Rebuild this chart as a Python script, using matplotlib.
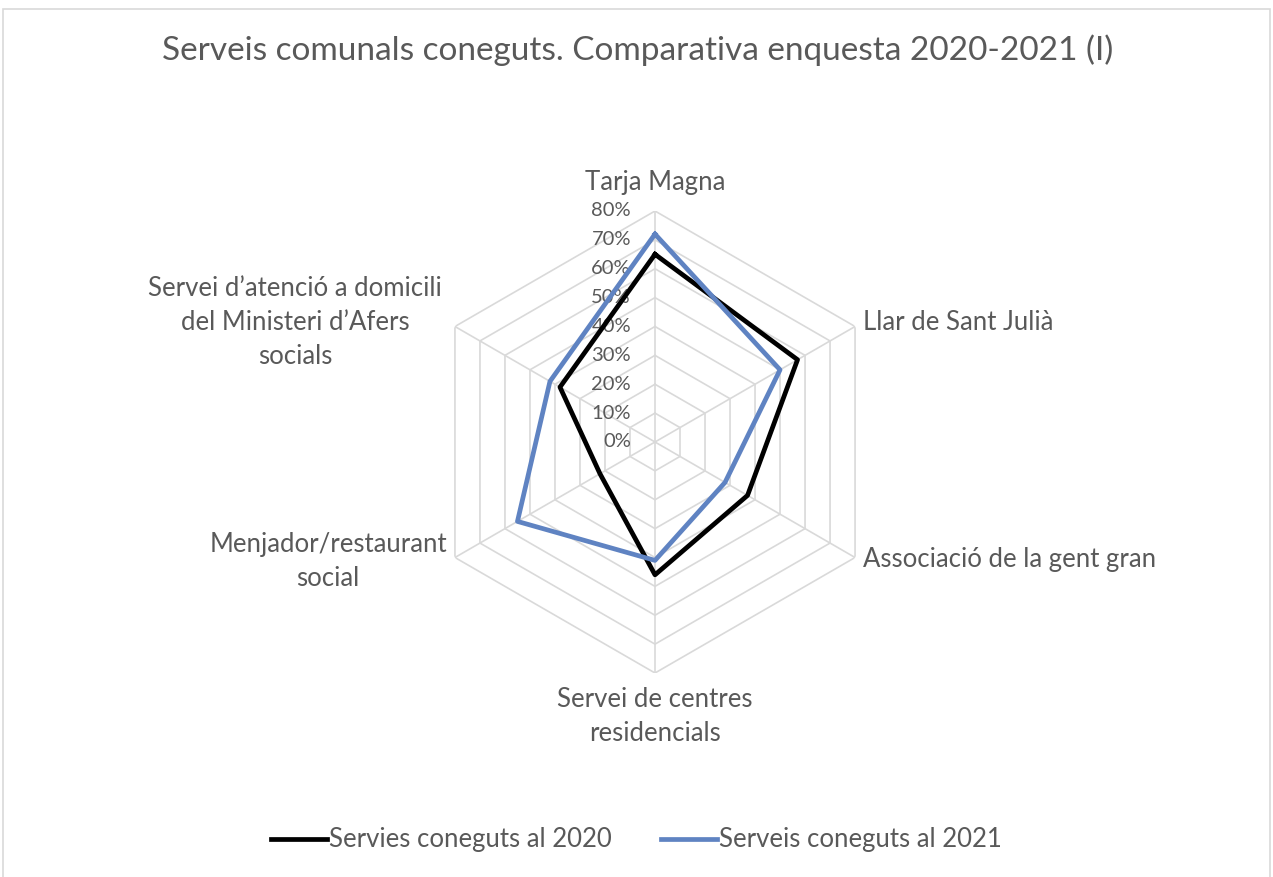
import numpy as np
import matplotlib.pyplot as plt
from matplotlib.patches import Rectangle

# data
categories = ['Tarja Magna', 'Llar de Sant Julià', 'Associació de la gent gran',
              'Servei de centres\nresidencials', 'Menjador/restaurant\nsocial',
              'Servei d\u2019atenció a domicili\ndel Ministeri d\u2019Afers\nsocials']
known_2020 = [0.65, 0.57, 0.37, 0.46, 0.22, 0.38]
known_2021 = [0.72, 0.50, 0.28, 0.41, 0.55, 0.42]
ring_levels = [0.0, 0.1, 0.2, 0.3, 0.4, 0.5, 0.6, 0.7, 0.8]
ring_labels = ['0%', '10%', '20%', '30%', '40%', '50%', '60%', '70%', '80%']
series_names = ['Servies coneguts al 2020', 'Serveis coneguts al 2021']

title = 'Serveis comunals coneguts. Comparativa enquesta 2020-2021 (I)'
txt = '#595959'
grid_c = '#d9d9d9'
blue = '#5f83c2'

plt.rcParams['font.family'] = ['Lato', 'DejaVu Sans']

W, H = 1273, 877
fig = plt.figure(figsize=(W/100, H/100), dpi=100)
fig.patches.append(Rectangle((3/W, -0.01), (1267)/W, 1.01 - 9/H, transform=fig.transFigure,
                             fill=False, edgecolor=grid_c, lw=1.2))

cx, cy, R = 655, 442, 231
ax = fig.add_axes([(cx-R)/W, (H-cy-R)/H, 2*R/W, 2*R/H], projection='polar')
ax.set_theta_offset(np.pi/2)
ax.set_theta_direction(-1)
ax.set_ylim(0, 0.8)
ax.grid(False)
ax.set_xticks([])
ax.set_yticks([])
ax.spines['polar'].set_visible(False)
ax.patch.set_alpha(0)

n = len(categories)
theta = np.arange(n) * 2*np.pi/n
th_closed = np.append(theta, theta[0])

# hexagonal grid
for r in ring_levels[1:]:
    ax.plot(th_closed, [r]*(n+1), color=grid_c, lw=1.2, zorder=1)
for t in theta:
    ax.plot([t, t], [0, 0.8], color=grid_c, lw=1.2, zorder=1)

ax.plot(th_closed, known_2020 + known_2020[:1], color='black', lw=3.4, zorder=3,
        label=series_names[0])
ax.plot(th_closed, known_2021 + known_2021[:1], color=blue, lw=3.4, zorder=4,
        label=series_names[1])

for r, lab in zip(ring_levels, ring_labels):
    ax.annotate(lab, xy=(0, r), xytext=(-24, 0), textcoords='offset pixels',
                ha='right', va='center', fontsize=14.5, color=txt, zorder=2)

label_pos = [((0, 16), 'center', 'bottom'),
             ((8, 4), 'left', 'center'),
             ((8, -2), 'left', 'center'),
             ((0, -14), 'center', 'top'),
             ((-8, -4), 'right', 'center'),
             ((-13, 4), 'right', 'center')]
for t, lab, (off, ha, va) in zip(theta, categories, label_pos):
    ax.annotate(lab, xy=(t, 0.8), xytext=off, textcoords='offset pixels',
                ha=ha, va=va, multialignment='center', fontsize=18.5, color=txt,
                linespacing=1.45, annotation_clip=False)

fig.text(638/W, 1 - 50/H, title, ha='center', va='center', fontsize=24, color=txt)

fig.legend(loc='center', bbox_to_anchor=(0.5, 1 - 840/H), ncol=2, frameon=False,
           fontsize=18.5, labelcolor=txt, handlelength=2.2, handletextpad=0.08,
           columnspacing=1.9)

fig.savefig('out.png', dpi=100)
